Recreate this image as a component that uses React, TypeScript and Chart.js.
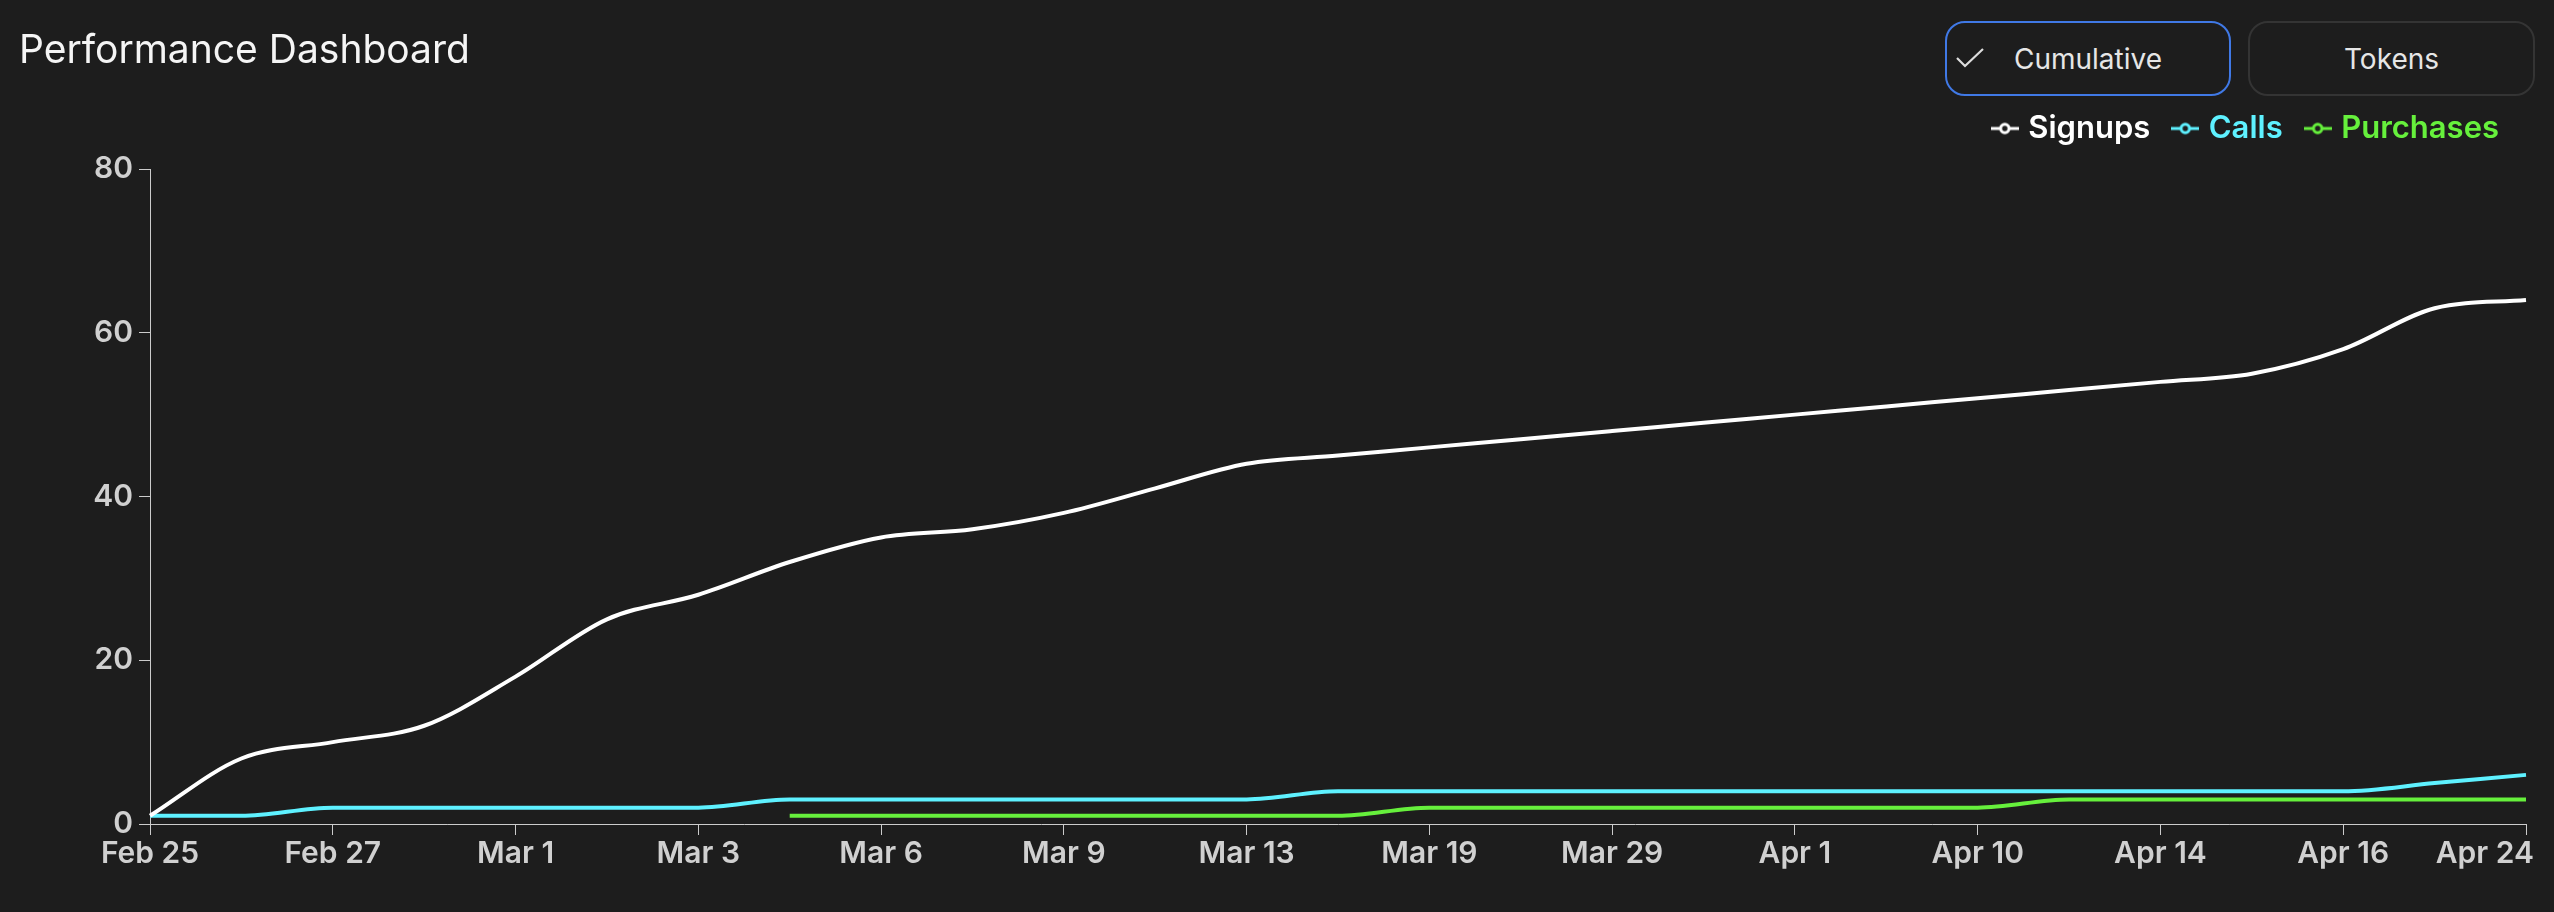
import React, { useEffect, useRef } from "react";
import { Chart, registerables } from "chart.js";

Chart.register(...registerables);

// ---- data ----
const dates = [
  "Feb 25", "Feb 26", "Feb 27", "Feb 28", "Mar 1", "Mar 2", "Mar 3", "Mar 5", "Mar 6",
  "Mar 8", "Mar 9", "Mar 11", "Mar 13", "Mar 16", "Mar 19", "Mar 24", "Mar 29", "Mar 31",
  "Apr 1", "Apr 7", "Apr 10", "Apr 12", "Apr 14", "Apr 15", "Apr 16", "Apr 20", "Apr 24",
];
const signups = [1, 8, 10, 12, 18, 25, 28, 32, 35, 36, 38, 41, 44, 45, 46, 47, 48, 49, 50, 51, 52, 53, 54, 55, 58, 63, 64];
const calls = [1, 1, 2, 2, 2, 2, 2, 3, 3, 3, 3, 3, 3, 4, 4, 4, 4, 4, 4, 4, 4, 4, 4, 4, 4, 5, 6];
const purchases = [null, null, null, null, null, null, null, 1, 1, 1, 1, 1, 1, 1, 2, 2, 2, 2, 2, 2, 2, 3, 3, 3, 3, 3, 3];
const seriesNames = ["Signups", "Calls", "Purchases"];
const yTicks = [0, 20, 40, 60, 80];
const buttons = ["Cumulative", "Tokens"];

const BG = "#1d1d1d";
const COLORS = ["#ffffff", "#5ef1ff", "#66f03c"];
const AXIS = "#cccccc";
const TICK_TEXT = "#d0d0d0";

function makeMarker(color: string): HTMLCanvasElement {
  const c = document.createElement("canvas");
  c.width = 28;
  c.height = 14;
  const ctx = c.getContext("2d")!;
  ctx.strokeStyle = color;
  ctx.lineWidth = 3;
  ctx.beginPath();
  ctx.moveTo(0, 7);
  ctx.lineTo(28, 7);
  ctx.stroke();
  ctx.beginPath();
  ctx.arc(14, 7, 4.2, 0, Math.PI * 2);
  ctx.fillStyle = BG;
  ctx.fill();
  ctx.stroke();
  return c;
}

// keeps first x label centred on its tick and pulls the last one inside the canvas
const edgeLabelPlugin = {
  id: "edgeLabels",
  beforeDraw(chart: any) {
    const s = chart.scales.x;
    if (!s) return;
    const items = s.getLabelItems(chart.chartArea);
    if (!items || !items.length) return;
    items[0].options.textAlign = "center";
    items[0].options.translation[0] = s.getPixelForTick(0);
    const n = items.length - 1;
    items[n].options.textAlign = "right";
    items[n].options.translation[0] = s.getPixelForTick(n) + 8;
  },
};

// empty layout box giving a gap between the legend and the plot area
const legendGapPlugin = {
  id: "legendGap",
  beforeInit(chart: any) {
    const box: any = {
      position: "top",
      weight: 0,
      fullSize: true,
      options: {},
      left: 0,
      top: 0,
      right: 0,
      bottom: 0,
      width: 0,
      height: 0,
      isHorizontal() {
        return true;
      },
      update(maxWidth: number) {
        this.width = maxWidth;
        this.height = 15;
      },
      draw() {},
    };
    box._layers = () => [{ z: 0, draw() {} }];
    if (!chart.boxes) chart.boxes = [];
    chart.boxes.push(box);
  },
};

export default function App() {
  const canvasRef = useRef<HTMLCanvasElement | null>(null);

  useEffect(() => {
    const canvas = canvasRef.current;
    if (!canvas) return;
    const values = [signups, calls, purchases];
    const chart = new Chart(canvas, {
      type: "line",
      data: {
        labels: dates,
        datasets: seriesNames.map((name, i) => ({
          label: name,
          data: values[i] as any,
          borderColor: COLORS[i],
          backgroundColor: COLORS[i],
          borderWidth: 4,
          pointRadius: 0,
          pointHoverRadius: 0,
          pointStyle: makeMarker(COLORS[i]) as any,
          cubicInterpolationMode: "monotone" as const,
          fill: false,
        })),
      },
      options: {
        responsive: false,
        animation: false,
        devicePixelRatio: 1,
        events: [],
        layout: { padding: { top: 86, right: 28, bottom: 0, left: 0 } },
        plugins: {
          tooltip: { enabled: false },
          legend: {
            position: "top",
            align: "end",
            labels: {
              usePointStyle: true,
              pointStyleWidth: 16,
              padding: 27,
              font: { family: "Inter", size: 31, weight: 600 as any },
              generateLabels: (ch: any) => {
                const base = Chart.defaults.plugins.legend.labels.generateLabels(ch);
                return base.map((it: any, i: number) => ({ ...it, fontColor: COLORS[i] }));
              },
            },
          },
        },
        scales: {
          x: {
            type: "category",
            ticks: {
              autoSkip: true,
              maxTicksLimit: 14,
              maxRotation: 0,
              minRotation: 0,
              align: "inner",
              padding: 1,
              color: TICK_TEXT,
              font: { family: "Inter", size: 30, weight: 600 as any },
            },
            grid: { drawOnChartArea: false, drawTicks: true, tickLength: 11, color: AXIS, lineWidth: 1 },
            border: { display: true, color: AXIS, width: 1 },
            afterFit: (s: any) => {
              s.height = 88;
            },
          },
          y: {
            min: yTicks[0],
            max: yTicks[yTicks.length - 1],
            ticks: {
              stepSize: yTicks[1] - yTicks[0],
              padding: 6,
              color: TICK_TEXT,
              font: { family: "Inter", size: 30, weight: 600 as any },
            },
            grid: { drawOnChartArea: false, drawTicks: true, tickLength: 11, color: AXIS, lineWidth: 1 },
            border: { display: true, color: AXIS, width: 1 },
            afterFit: (s: any) => {
              s.width = 150;
            },
          },
        },
      },
      plugins: [edgeLabelPlugin, legendGapPlugin],
    });
    return () => chart.destroy();
  }, []);

  const btnBase: React.CSSProperties = {
    position: "absolute",
    top: 21,
    height: 75,
    boxSizing: "border-box",
    borderRadius: 20,
    display: "flex",
    alignItems: "center",
    justifyContent: "center",
    fontFamily: "Inter",
    fontSize: 28,
    color: "#e6e6e6",
    background: BG,
  };

  return (
    <div style={{ position: "fixed", left: 0, top: 0, width: 2554, height: 912, background: BG, overflow: "hidden" }}>
      <canvas ref={canvasRef} width={2554} height={912} style={{ position: "absolute", left: 0, top: 0, width: 2554, height: 912 }} />
      <div
        style={{
          position: "absolute",
          left: 19,
          top: 29,
          fontFamily: "Inter",
          fontSize: 39,
          lineHeight: 1,
          color: "#f5f5f5",
          whiteSpace: "nowrap",
        }}
      >
        Performance Dashboard
      </div>
      <div style={{ ...btnBase, left: 1945, width: 286, border: "2px solid #4079e6" }}>
        <svg width={30} height={22} viewBox="0 0 30 22" style={{ position: "absolute", left: 8, top: 24 }}>
          <polyline points="2,11 10,19 28,2" fill="none" stroke="#dddddd" strokeWidth={2.2} />
        </svg>
        <span>{buttons[0]}</span>
      </div>
      <div style={{ ...btnBase, left: 2248, width: 287, border: "2px solid #343434" }}>
        <span>{buttons[1]}</span>
      </div>
    </div>
  );
}
